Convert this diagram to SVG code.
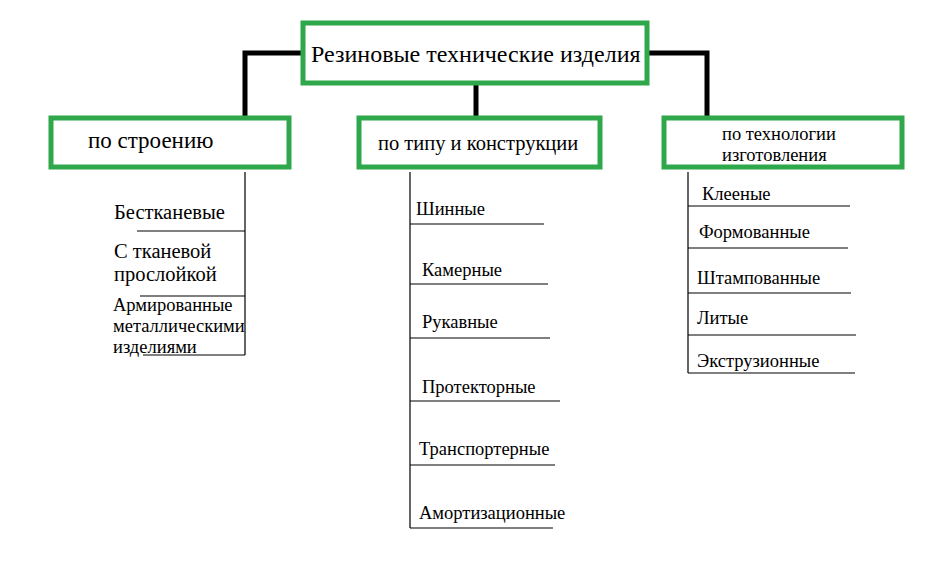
<svg xmlns="http://www.w3.org/2000/svg" width="939" height="573" viewBox="0 0 939 573">
<style>
.box{fill:#fff;stroke:#2ea84a;stroke-width:5}
.con{fill:none;stroke:#000;stroke-width:5}
.ln{fill:none;stroke:#000;stroke-width:1.2}
.s{font-size:18.5px}
</style>
<rect width="939" height="573" fill="#fff"/>
<g id="connectors">
<path class="con" d="M302 53H245V117"/>
<path class="con" d="M476 84V117"/>
<path class="con" d="M648 53H707V117"/>
<path class="ln" d="M245 172V355M137 231H245M140 296H245M143 355H245"/>
<path class="ln" d="M410 172V528M410 224H544M410 284H548M410 338H550M410 401H560M410 465H555M410 528H553"/>
<path class="ln" d="M688 172V373M688 206H850M688 248H848M688 293H851M688 335H856M688 373H855"/>
</g>
<g font-family="'Liberation Serif','Times New Roman','DejaVu Serif',serif" fill="#000">
<g id="root"><rect class="box" x="303" y="23" width="344" height="60"/><text x="311" y="62" font-size="24">Резиновые технические изделия</text></g>
<g id="n1"><rect class="box" x="51" y="118" width="238" height="49"/><text x="88" y="148" font-size="23">по строению</text></g>
<g id="n2"><rect class="box" x="359" y="118" width="241" height="49"/><text x="378" y="150" font-size="20.5">по типу и конструкции</text></g>
<g id="n3"><rect class="box" x="664" y="118" width="238" height="49"/><text x="722" y="140" class="s">по технологии</text><text x="722" y="161" class="s">изготовления</text></g>
<g id="left-items">
<text x="114" y="219" font-size="20.5">Бестканевые</text>
<text x="114" y="258" font-size="20.5">С тканевой</text>
<text x="114" y="281" font-size="20.5">прослойкой</text>
<text x="113" y="311" class="s">Армированные</text>
<text x="113" y="332" class="s">металлическими</text>
<text x="113" y="353" class="s">изделиями</text>
</g>
<g id="mid-items">
<text x="416" y="215" class="s">Шинные</text>
<text x="422" y="276" class="s">Камерные</text>
<text x="422" y="328" class="s">Рукавные</text>
<text x="422" y="393" class="s">Протекторные</text>
<text x="419" y="455" class="s">Транспортерные</text>
<text x="419" y="519" class="s">Амортизационные</text>
</g>
<g id="right-items">
<text x="702" y="200" class="s">Клееные</text>
<text x="699" y="238" class="s">Формованные</text>
<text x="697" y="284" class="s">Штампованные</text>
<text x="697" y="324" class="s">Литые</text>
<text x="697" y="367" class="s">Экструзионные</text>
</g>
</g>
</svg>
